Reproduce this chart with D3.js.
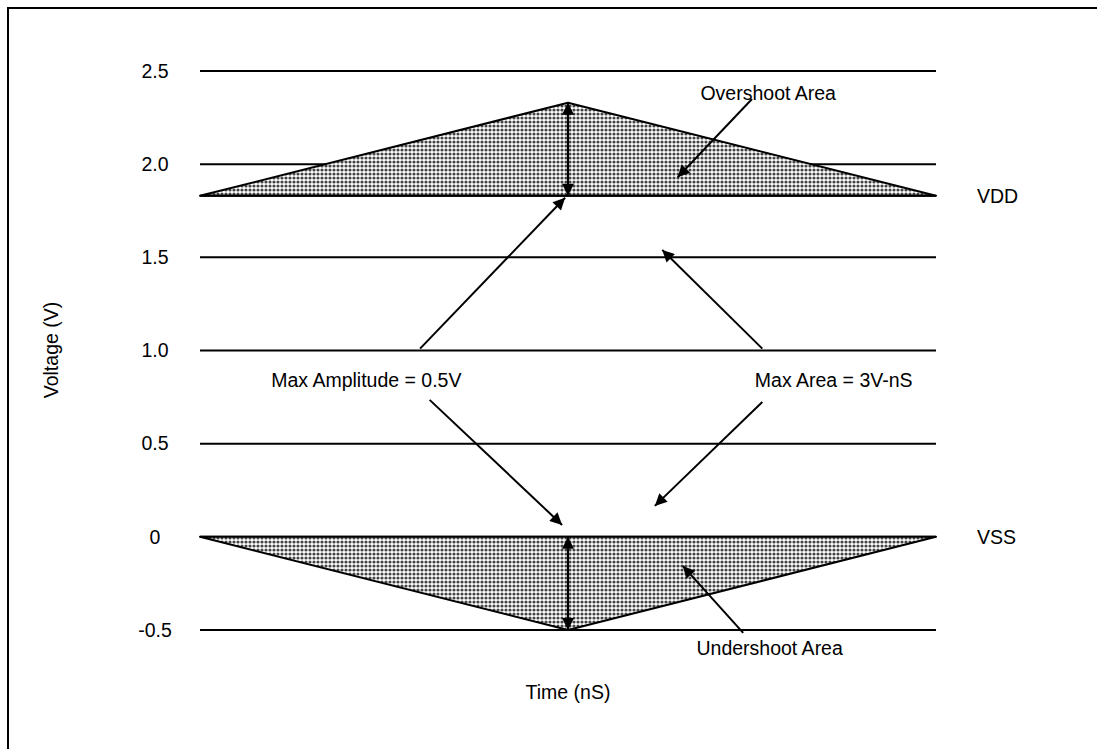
<!DOCTYPE html>
<html>
<head>
<meta charset="utf-8">
<script src="https://cdn.jsdelivr.net/npm/d3@7"></script>
<style>
  body { margin: 0; background: #fff; }
  text { font-family: "Liberation Sans", Arial, sans-serif; font-size: 19.5px; fill: #000; }
</style>
</head>
<body>
<div id="container"></div>
<script>
/* chart data */
var yTicks = [2.5, 2.0, 1.5, 1.0, 0.5, 0, -0.5];
var yTickLabels = ["2.5", "2.0", "1.5", "1.0", "0.5", "0", "-0.5"];
var vdd = 1.83, vss = 0;
var overshoot = [[0, 1.83], [5, 2.33], [10, 1.83]];   // [time, volts]
var undershoot = [[0, 0], [5, -0.5], [10, 0]];
var railLabels = [{ text: "VDD", v: 1.83 }, { text: "VSS", v: 0 }];

/* pointer arrows: [t0, v0] -> [t1, v1] */
var arrows = [
  [[7.5, 2.35], [6.49, 1.93]],
  [[2.99, 1.01], [4.96, 1.82]],
  [[7.64, 1.01], [6.28, 1.54]],
  [[3.12, 0.735], [4.92, 0.064]],
  [[7.64, 0.724], [6.18, 0.166]],
  [[7.38, -0.515], [6.56, -0.156]]
];
var notes = [
  { text: "Overshoot Area", t: 7.72, v: 2.38 },
  { text: "Max Amplitude = 0.5V", t: 2.26, v: 0.84 },
  { text: "Max Area = 3V-nS", t: 8.61, v: 0.84 },
  { text: "Undershoot Area", t: 7.74, v: -0.6 }
];

/* setup */
var width = 1097, height = 749;
var x = d3.scaleLinear().domain([0, 10]).range([200, 936]);
var y = d3.scaleLinear().domain([-0.5, 2.5]).range([630, 71]);

var svg = d3.select("#container").append("svg")
  .attr("width", width).attr("height", height);

var defs = svg.append("defs");
var pat = defs.append("pattern")
  .attr("id", "dots").attr("patternUnits", "userSpaceOnUse")
  .attr("width", 4).attr("height", 4);
pat.append("rect").attr("width", 4).attr("height", 4).attr("fill", "#fff");
pat.append("circle").attr("cx", 2).attr("cy", 2).attr("r", 1.6).attr("fill", "#444");

defs.append("marker")
  .attr("id", "head").attr("viewBox", "0 0 10 10")
  .attr("refX", 10).attr("refY", 5)
  .attr("markerUnits", "userSpaceOnUse")
  .attr("markerWidth", 15).attr("markerHeight", 12)
  .attr("orient", "auto-start-reverse")
  .append("path").attr("d", "M0,0 L10,5 L0,10 Z").attr("fill", "#000");

// frame
svg.append("rect")
  .attr("x", 8).attr("y", 8).attr("width", 1100).attr("height", 760)
  .attr("fill", "none").attr("stroke", "#000").attr("stroke-width", 2);

// grid lines (drawn below the shaded areas)
svg.selectAll(".grid").data(yTicks).enter().append("line")
  .attr("class", "grid")
  .attr("x1", x(0)).attr("x2", x(10))
  .attr("y1", function(d) { return y(d); }).attr("y2", function(d) { return y(d); })
  .attr("stroke", "#000").attr("stroke-width", 2);

// shaded areas
var line = d3.line().x(function(d) { return x(d[0]); }).y(function(d) { return y(d[1]); });
[overshoot, undershoot].forEach(function(pts) {
  svg.append("path")
    .attr("d", line(pts) + "Z")
    .attr("fill", "url(#dots)")
    .attr("stroke", "#000").attr("stroke-width", 2).attr("stroke-linejoin", "round");
});

// VDD rail
svg.append("line")
  .attr("x1", x(0)).attr("x2", x(10)).attr("y1", y(vdd)).attr("y2", y(vdd))
  .attr("stroke", "#000").attr("stroke-width", 2);

// tick labels
svg.selectAll(".tick").data(yTicks).enter().append("text")
  .attr("x", 155).attr("y", function(d) { return y(d); })
  .attr("dy", "0.35em").attr("text-anchor", "middle")
  .text(function(d, i) { return yTickLabels[i]; });

svg.selectAll(".rail").data(railLabels).enter().append("text")
  .attr("x", 977).attr("y", function(d) { return y(d.v); })
  .attr("dy", "0.35em")
  .text(function(d) { return d.text; });

// amplitude double arrows
[[vdd, overshoot[1][1]], [vss, undershoot[1][1]]].forEach(function(r) {
  svg.append("line")
    .attr("x1", x(5)).attr("x2", x(5))
    .attr("y1", y(r[0])).attr("y2", y(r[1]))
    .attr("stroke", "#000").attr("stroke-width", 2)
    .attr("marker-start", "url(#head)").attr("marker-end", "url(#head)");
});

// pointer arrows
svg.selectAll(".arrow").data(arrows).enter().append("line")
  .attr("x1", function(d) { return x(d[0][0]); }).attr("y1", function(d) { return y(d[0][1]); })
  .attr("x2", function(d) { return x(d[1][0]); }).attr("y2", function(d) { return y(d[1][1]); })
  .attr("stroke", "#000").attr("stroke-width", 2)
  .attr("marker-end", "url(#head)");

svg.selectAll(".note").data(notes).enter().append("text")
  .attr("x", function(d) { return x(d.t); }).attr("y", function(d) { return y(d.v); })
  .attr("dy", "0.35em").attr("text-anchor", "middle")
  .text(function(d) { return d.text; });

// axis titles
svg.append("text")
  .attr("x", x(5)).attr("y", 692).attr("dy", "0.35em").attr("text-anchor", "middle")
  .text("Time (nS)");
svg.append("text")
  .attr("transform", "translate(51,350) rotate(-90)")
  .attr("dy", "0.35em").attr("text-anchor", "middle")
  .text("Voltage (V)");
</script>
</body>
</html>
